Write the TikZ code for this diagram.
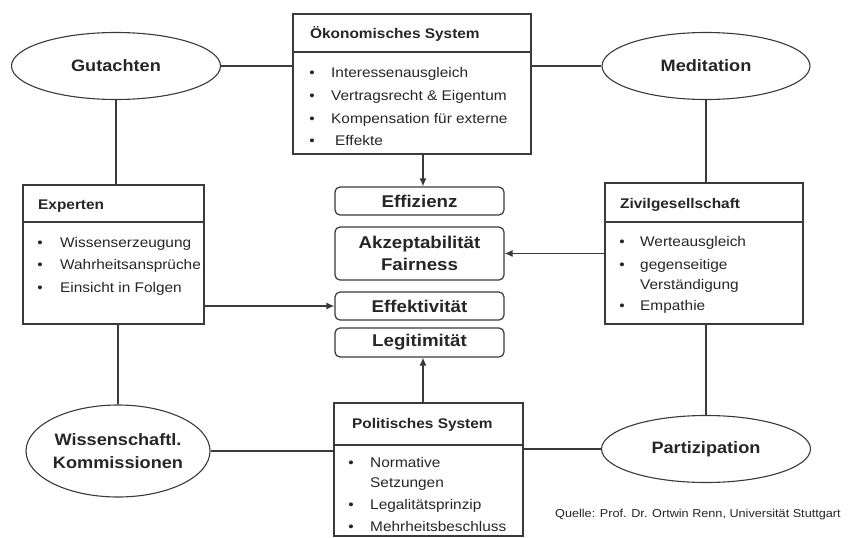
\documentclass[tikz,border=0pt]{standalone}
\usepackage{fontspec}
\setmainfont{Liberation Sans}[FakeStretch=1.1]
\usetikzlibrary{shapes.geometric,arrows.meta}
\definecolor{linegray}{HTML}{3A3A3A}
\definecolor{txt}{HTML}{262626}
\begin{document}
\begin{tikzpicture}[x=1pt,y=-1pt,
  ln/.style={draw=linegray,line width=1.2pt},
  ell/.style={ellipse,draw=linegray,line width=1.1pt,inner sep=0pt,font=\fontsize{16.5}{23}\selectfont\bfseries,align=center,text=txt},
  sbox/.style={rectangle,draw=linegray,line width=1.3pt,inner sep=0pt},
  cbox/.style={rectangle,rounded corners=5pt,draw=linegray,line width=1.2pt,minimum width=169pt,font=\fontsize{17}{22}\selectfont\bfseries,align=center,inner sep=0pt,text=txt},
  ttl/.style={anchor=base west,font=\fontsize{14}{16}\selectfont\bfseries,inner sep=0pt,text=txt},
  itm/.style={anchor=base west,font=\fontsize{14}{16}\selectfont,inner sep=0pt,text=txt},
  bul/.style={anchor=base,font=\fontsize{14}{16}\selectfont,inner sep=0pt,text=txt},
  arr/.style={ln,-{Latex[length=8pt,width=7pt]}}
]
\useasboundingbox[fill=white] (0,0) rectangle (852,538);

% ellipses
\node[ell,minimum width=209pt,minimum height=67pt] (gut) at (116,66) {Gutachten};
\node[ell,minimum width=208pt,minimum height=67pt] (med) at (706,66) {Meditation};
\node[ell,minimum width=184pt,minimum height=92pt] (wis) at (118,451) {Wissenschaftl.\\Kommissionen};
\node[ell,minimum width=209pt,minimum height=67pt] (par) at (706,449) {Partizipation};

% system boxes
\node[sbox,minimum width=238pt,minimum height=140pt] (oek) at (412,84) {};
\node[sbox,minimum width=181pt,minimum height=139pt] (exp) at (113.5,254.5) {};
\node[sbox,minimum width=198pt,minimum height=141pt] (ziv) at (704,253.5) {};
\node[sbox,minimum width=189pt,minimum height=133pt] (pol) at (428.5,469.5) {};

% header separators
\draw[ln] (293,52) -- (531,52);
\draw[ln] (23,222) -- (204,222);
\draw[ln] (605,222) -- (803,222);
\draw[ln] (334,445) -- (523,445);

% titles
\node[ttl] (oekt) at (310,38) {Ökonomisches System};
\node[ttl] (expt) at (38,209) {Experten};
\node[ttl] (zivt) at (620,208) {Zivilgesellschaft};
\node[ttl] (polt) at (352,428) {Politisches System};

% Oekonomisches items
\node[bul] (ob1) at (312,77) {•};
\node[itm] (oi1) at (331,77) {Interessenausgleich};
\node[bul] (ob2) at (312,100) {•};
\node[itm] (oi2) at (331,100) {Vertragsrecht \& Eigentum};
\node[bul] (ob3) at (312,123) {•};
\node[itm] (oi3) at (331,123) {Kompensation für externe};
\node[bul] (ob4) at (312,145) {•};
\node[itm] (oi4) at (335,145) {Effekte};

% Experten items
\node[bul] (eb1) at (40,247) {•};
\node[itm] (ei1) at (60,247) {Wissenserzeugung};
\node[bul] (eb2) at (40,269) {•};
\node[itm] (ei2) at (60,269) {Wahrheitsansprüche};
\node[bul] (eb3) at (40,292) {•};
\node[itm] (ei3) at (60,292) {Einsicht in Folgen};

% Zivilgesellschaft items
\node[bul] (zb1) at (622,246) {•};
\node[itm] (zi1) at (640,246) {Werteausgleich};
\node[bul] (zb2) at (622,269) {•};
\node[itm] (zi2) at (640,269) {gegenseitige};
\node[itm] (zi2b) at (640,289) {Verständigung};
\node[bul] (zb3) at (622,310) {•};
\node[itm] (zi3) at (640,310) {Empathie};

% Politisches items
\node[bul] (pb1) at (351,467) {•};
\node[itm] (pi1) at (370,467) {Normative};
\node[itm] (pi1b) at (370,487) {Setzungen};
\node[bul] (pb2) at (351,509) {•};
\node[itm] (pi2) at (370,509) {Legalitätsprinzip};
\node[bul] (pb3) at (351,531) {•};
\node[itm] (pi3) at (370,531) {Mehrheitsbeschluss};

% central boxes
\node[cbox,minimum height=28pt] (eff) at (419.5,201) {Effizienz};
\node[cbox,minimum height=53pt] (akz) at (419.5,253.5) {Akzeptabilität\\Fairness};
\node[cbox,minimum height=28pt] (efk) at (419.5,306) {Effektivität};
\node[cbox,minimum height=29pt] (leg) at (419.5,342.5) {Legitimität};

% connecting lines
\draw[ln] (gut.east) -- (gut.east -| oek.west);
\draw[ln] (med.west) -- (med.west -| oek.east);
\draw[ln] (gut.south) -- (gut.south |- exp.north);
\draw[ln] (med.south) -- (med.south |- ziv.north);
\draw[ln] (exp.south -| wis.north) -- (wis.north);
\draw[ln] (ziv.south -| par.north) -- (par.north);
\draw[ln] (wis.east) -- (wis.east -| pol.west);
\draw[ln] (par.west) -- (par.west -| pol.east);

% arrows
\coordinate (ax) at (423,0);
\draw[arr] (oek.south -| ax) -- (eff.north -| ax);
\draw[arr] (pol.north -| ax) -- (leg.south -| ax);
\draw[arr] (exp.east |- efk.west) -- (efk.west);
\draw[arr] (ziv.west |- akz.east) -- (akz.east);

% source
\node[anchor=west,font=\fontsize{11.5}{13}\selectfont,inner sep=0pt,text=txt] (src) at (555,515) {Quelle: Prof. Dr. Ortwin Renn, Universität Stuttgart};
\end{tikzpicture}
\end{document}
